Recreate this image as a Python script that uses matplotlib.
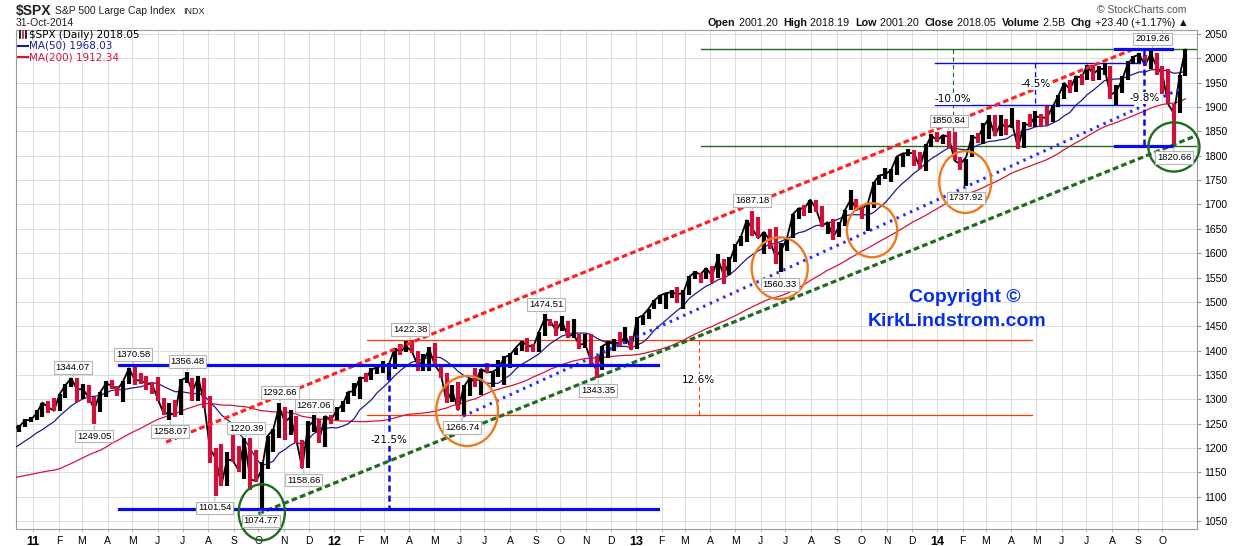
import numpy as np
import pandas as pd
import matplotlib
matplotlib.use("Agg")
import matplotlib.pyplot as plt
import matplotlib.dates as mdates
from matplotlib.patches import Ellipse
from matplotlib.lines import Line2D

plt.rcParams['font.family'] = ['Liberation Sans', 'DejaVu Sans']

# weekly closes of 2010 before the visible window (only seed the moving averages)
warmup_start = "2010-02-26"
warmup_close = [1104.5, 1138.7, 1150.0, 1159.9, 1166.6, 1178.1, 1194.4, 1192.1, 1217.3, 1186.7,
                1110.9, 1135.7, 1087.7, 1089.4, 1064.9, 1091.6, 1117.5, 1076.8, 1022.6, 1078.0,
                1064.9, 1102.7, 1101.6, 1121.6, 1079.3, 1071.7, 1064.6, 1104.5, 1109.6, 1125.6,
                1148.7, 1146.2, 1165.2, 1176.2, 1183.1, 1183.3, 1225.9, 1199.2, 1199.7, 1189.4,
                1224.7]

# weekly bars (week ending Friday) from 10-Dec-2010 to 31-Oct-2014
week_start = "2010-12-10"
high = [
    1240.4, 1246.7, 1259.4, 1262.6,
    # 2011
    1278.2, 1293.2, 1296.1, 1302.7, 1311.0, 1330.8, 1344.1, 1342.9, 1332.3, 1330.1, 1305.2, 1314.8, 1337.9,
    1339.5, 1328.2, 1337.5, 1364.6, 1370.6, 1354.4, 1346.8, 1334.6, 1345.9, 1302.2, 1292.5, 1298.6, 1341.0,
    1356.5, 1343.3, 1347.0, 1344.3, 1307.4, 1199.4, 1208.5, 1190.7, 1230.7, 1204.4, 1220.4, 1220.4, 1195.9,
    1171.4, 1224.6, 1239.0, 1292.7, 1285.1, 1277.6, 1266.0, 1215.7, 1255.0, 1267.1, 1259.7, 1265.4, 1267.4,
    # 2012
    1284.6, 1296.8, 1315.5, 1333.5, 1345.3, 1354.3, 1363.4, 1368.9, 1378.0, 1374.8, 1405.9, 1414.0, 1419.2,
    1422.4, 1398.1, 1392.8, 1406.6, 1415.3, 1369.1, 1353.9, 1328.5, 1334.9, 1329.1, 1343.3, 1363.5, 1362.2,
    1374.8, 1356.8, 1380.4, 1389.2, 1394.2, 1405.9, 1418.7, 1426.7, 1413.5, 1437.9, 1474.5, 1465.8, 1461.5,
    1471.0, 1460.9, 1464.0, 1434.0, 1434.3, 1433.4, 1388.8, 1409.2, 1420.0, 1423.7, 1438.6, 1448.0, 1430.2,
    # 2013
    1467.9, 1472.3, 1486.0, 1503.3, 1514.4, 1518.3, 1524.7, 1530.9, 1525.3, 1552.5, 1563.6, 1558.7, 1570.3,
    1573.7, 1597.4, 1588.9, 1592.6, 1618.5, 1635.0, 1667.5, 1687.2, 1674.2, 1644.4, 1648.7, 1654.2, 1620.1,
    1632.1, 1680.2, 1693.1, 1698.8, 1709.7, 1709.2, 1697.6, 1664.0, 1669.5, 1664.6, 1689.0, 1729.9, 1711.4,
    1696.6, 1703.4, 1745.3, 1759.8, 1775.2, 1773.3, 1798.2, 1804.8, 1813.6, 1811.5, 1808.4, 1823.8, 1844.9,
    # 2014
    1849.4, 1843.2, 1850.8, 1849.3, 1798.0, 1793.9, 1841.7, 1847.5, 1867.9, 1883.6, 1884.0, 1884.0, 1875.2,
    1897.3, 1872.5, 1869.6, 1884.9, 1891.3, 1885.6, 1902.2, 1901.3, 1924.0, 1949.4, 1955.6, 1963.9, 1968.2,
    1985.6, 1985.6, 1985.3, 1991.4, 1984.9, 1945.0, 1964.0, 1994.8, 2005.0, 2011.2, 2007.7, 2019.3, 2010.4,
    1985.2, 1977.8, 1906.1, 1965.3, 2018.2,
]
low = [
    1221.2, 1232.9, 1242.9, 1254.2,
    # 2011
    1257.6, 1262.7, 1271.3, 1275.1, 1276.3, 1302.6, 1324.6, 1294.3, 1300.5, 1291.9, 1249.1, 1273.7, 1305.3,
    1322.0, 1307.7, 1294.7, 1330.7, 1330.1, 1330.5, 1318.5, 1311.8, 1296.2, 1268.5, 1258.1, 1262.7, 1268.4,
    1333.2, 1295.9, 1295.9, 1282.9, 1168.1, 1101.5, 1122.1, 1121.1, 1171.0, 1150.7, 1136.1, 1114.2, 1131.1,
    1074.8, 1157.8, 1191.5, 1221.1, 1215.4, 1226.6, 1209.4, 1158.7, 1158.7, 1233.6, 1209.5, 1202.4, 1248.6,
    # 2012
    1257.6, 1274.3, 1290.2, 1306.1, 1300.5, 1335.9, 1340.0, 1352.3, 1354.9, 1340.0, 1363.0, 1391.6, 1397.1,
    1395.9, 1357.4, 1358.8, 1358.8, 1367.9, 1343.1, 1292.0, 1295.2, 1277.0, 1266.7, 1306.6, 1324.4, 1309.3,
    1353.8, 1325.4, 1345.1, 1329.2, 1365.0, 1391.0, 1400.0, 1398.0, 1397.0, 1396.6, 1429.1, 1449.6, 1430.5,
    1440.7, 1425.5, 1426.5, 1403.3, 1405.2, 1373.0, 1343.4, 1359.9, 1385.4, 1398.2, 1409.3, 1413.5, 1401.4,
    # 2013
    1402.4, 1451.6, 1463.8, 1485.0, 1495.9, 1485.0, 1506.9, 1497.3, 1485.0, 1514.0, 1547.4, 1538.6, 1546.2,
    1539.5, 1548.7, 1536.0, 1555.3, 1581.3, 1614.4, 1623.7, 1635.5, 1630.7, 1598.2, 1608.1, 1577.7, 1560.3,
    1604.6, 1631.9, 1670.3, 1676.0, 1681.9, 1684.9, 1654.2, 1639.4, 1627.5, 1633.0, 1655.2, 1688.0, 1687.1,
    1670.4, 1646.5, 1692.1, 1740.5, 1752.7, 1746.2, 1760.6, 1777.2, 1798.8, 1779.1, 1772.3, 1768.0, 1818.3,
    # 2014
    1827.7, 1823.7, 1815.5, 1790.3, 1770.5, 1737.9, 1797.0, 1826.2, 1825.1, 1834.4, 1839.6, 1839.9, 1842.3,
    1857.6, 1814.4, 1815.7, 1859.7, 1859.8, 1859.8, 1862.4, 1868.6, 1900.5, 1915.9, 1929.0, 1930.1, 1944.7,
    1955.6, 1952.9, 1955.6, 1965.1, 1916.4, 1904.8, 1928.3, 1955.1, 1988.4, 1990.1, 1985.2, 1978.5, 1966.0,
    1926.0, 1906.1, 1820.7, 1886.8, 1964.6,
]
close = [
    1240.4, 1243.9, 1256.8, 1257.6,
    # 2011
    1271.5, 1293.2, 1283.4, 1276.3, 1310.9, 1329.2, 1343.0, 1319.9, 1321.2, 1304.3, 1279.2, 1313.8, 1332.4,
    1328.2, 1319.7, 1337.4, 1363.6, 1340.2, 1337.8, 1333.3, 1331.1, 1300.2, 1271.0, 1271.5, 1268.4, 1339.7,
    1344.0, 1316.1, 1345.0, 1292.3, 1199.4, 1178.8, 1123.5, 1176.8, 1174.0, 1154.2, 1216.0, 1136.4, 1131.4,
    1155.5, 1224.6, 1238.3, 1285.1, 1253.2, 1263.9, 1215.7, 1158.7, 1244.3, 1255.2, 1219.7, 1265.3, 1257.6,
    # 2012
    1277.8, 1289.1, 1315.4, 1316.3, 1344.9, 1342.6, 1361.2, 1365.7, 1370.0, 1370.9, 1404.2, 1397.1, 1408.5,
    1398.1, 1370.3, 1378.5, 1403.4, 1369.1, 1353.4, 1295.2, 1317.8, 1278.0, 1325.7, 1342.8, 1335.0, 1362.2,
    1354.7, 1356.8, 1362.7, 1386.0, 1391.0, 1405.9, 1418.2, 1411.1, 1406.6, 1437.9, 1465.8, 1460.2, 1440.7,
    1460.9, 1428.6, 1433.2, 1411.9, 1414.2, 1379.9, 1359.9, 1409.2, 1416.2, 1418.1, 1413.6, 1430.2, 1402.4,
    # 2013
    1466.5, 1472.1, 1486.0, 1503.0, 1513.2, 1517.9, 1519.8, 1515.6, 1518.2, 1551.2, 1560.7, 1556.9, 1569.2,
    1553.3, 1588.9, 1555.3, 1582.2, 1614.4, 1633.7, 1667.5, 1649.6, 1630.7, 1643.4, 1626.7, 1592.4, 1606.3,
    1631.9, 1680.2, 1692.1, 1691.7, 1709.7, 1691.4, 1655.8, 1663.5, 1633.0, 1655.2, 1688.0, 1709.9, 1691.8,
    1690.5, 1703.2, 1744.5, 1759.8, 1761.6, 1770.6, 1798.2, 1804.8, 1805.8, 1805.1, 1775.3, 1818.3, 1841.4,
    # 2014
    1831.4, 1842.4, 1838.7, 1790.3, 1782.6, 1797.0, 1838.6, 1836.3, 1859.5, 1878.0, 1841.1, 1866.5, 1857.6,
    1865.1, 1815.7, 1864.9, 1863.4, 1881.1, 1878.5, 1877.9, 1900.5, 1923.6, 1949.4, 1936.2, 1962.9, 1961.0,
    1985.4, 1967.6, 1978.2, 1978.3, 1925.2, 1931.6, 1955.1, 1988.4, 2003.4, 2007.7, 1985.5, 2010.4, 1982.9,
    1967.9, 1906.1, 1886.8, 1964.6, 2018.05,
]

# labelled turning points
pivot_dates = ["2011-02-18", "2011-05-02", "2011-07-07", "2011-03-16", "2011-06-16", "2011-08-09",
               "2011-10-04", "2011-09-16", "2011-10-27", "2011-12-07", "2011-11-25", "2012-04-02",
               "2012-06-04", "2012-09-14", "2012-11-16", "2013-05-22", "2013-06-24", "2014-02-05",
               "2014-01-15", "2014-09-19", "2014-10-15"]
pivot_values = [1344.07, 1370.58, 1356.48, 1249.05, 1258.07, 1101.54, 1074.77, 1220.39, 1292.66,
                1267.06, 1158.66, 1422.38, 1266.74, 1474.51, 1343.35, 1687.18, 1560.33, 1737.92,
                1850.84, 2019.26, 1820.66]
pivot_side = ["hi", "hi", "hi", "lo", "lo", "lo", "lo", "hi", "hi", "hi", "lo", "hi",
              "lo", "hi", "lo", "hi", "lo", "lo", "hi", "hi", "lo"]

# trend lines: start date, start price, end date, end price
red_channel = ("2011-06-11", 1212, "2014-08-27", 2019)
green_channel = ("2011-10-01", 1065, "2014-11-12", 1842)
blue_trend = ("2012-06-05", 1265, "2014-10-25", 1939)

# circled lows
circle_dates = ["2011-10-05", "2012-06-10", "2013-06-24", "2013-10-14", "2014-02-04", "2014-10-15"]
circle_prices = [1068, 1276, 1569, 1647, 1746, 1818]
circle_kind = ["green", "orange", "orange", "orange", "orange", "green"]
circle_w_days = [56, 75, 68, 61, 63, 62]
circle_h_pts = [115, 144, 127, 111, 127, 101]

BLACK = "#000000"
DOWN = "#d0103a"
NAVY = "#1c1c8a"
CRIMSON = "#d4143c"
BLUE = "#0a0aee"
RED = "#ff2222"
DKGREEN = "#1f6b1f"
ORANGE = "#f07820"
ORANGERED = "#ff3a00"

W, H = 1240, 546
fig = plt.figure(figsize=(W / 100, H / 100), dpi=100)
ax = fig.add_axes([16 / W, 17 / H, 1181 / W, 499 / H])

d = lambda s: mdates.date2num(pd.Timestamp(s))

weeks = pd.date_range(week_start, periods=len(close), freq="W-FRI")
xb = mdates.date2num(weeks - pd.Timedelta(days=2))
close_a = np.array(close)
prev = np.r_[warmup_close[-1], close_a[:-1]]
colors = np.where(close_a >= prev, BLACK, DOWN)

# moving averages from weekly closes (10 weeks ~ 50 days, 40 weeks ~ 200 days)
all_weeks = pd.date_range(warmup_start, periods=len(warmup_close) + len(close), freq="W-FRI")
s = pd.Series(warmup_close + close, index=all_weeks)
ma50 = s.rolling(10).mean().iloc[len(warmup_close):]
ma200 = s.rolling(40).mean().iloc[len(warmup_close):]

ax.plot(xb, ma200.values, color=CRIMSON, lw=0.9, zorder=3)
ax.plot(xb, ma50.values, color=NAVY, lw=0.9, zorder=3)
ax.plot(xb, close_a, color=BLACK, lw=1.3, zorder=4)
ax.vlines(xb, low, high, colors=colors, lw=3.0, zorder=4)

# channels
def seg(t, **kw):
    ax.plot([d(t[0]), d(t[2])], [t[1], t[3]], **kw)

seg(red_channel, color=RED, lw=2.3, ls=(0, (1.8, 1.0)), zorder=5)
seg(green_channel, color=DKGREEN, lw=2.3, ls=(0, (1.8, 1.0)), zorder=5)
seg(blue_trend, color="#2a2aff", lw=2.2, ls=(0, (0.8, 1.6)), zorder=5)

# 2011 range and 21.5% drop
ax.plot([d("2011-04-15"), d("2013-01-28")], [1370.58, 1370.58], color=BLUE, lw=2.3, zorder=5)
ax.plot([d("2011-04-15"), d("2013-01-28")], [1074.77, 1074.77], color=BLUE, lw=2.3, zorder=5)
ax.plot([d("2012-03-07")] * 2, [1370.58, 1074.77], color=BLUE, lw=1.8, ls=(0, (2.5, 1.5)), zorder=5)
ax.text(d("2012-03-07"), 1216, "-21.5%", fontsize=7.5, ha="center", va="center", zorder=6,
        family=["DejaVu Sans"], bbox=dict(fc="white", ec="none", pad=0.5))

# 2012 range 12.6%
ax.plot([d("2012-02-10"), d("2014-04-26")], [1422.38, 1422.38], color=ORANGERED, lw=0.9, zorder=2)
ax.plot([d("2012-02-10"), d("2014-04-26")], [1266.74, 1266.74], color=ORANGERED, lw=0.9, zorder=2)
ax.plot([d("2013-03-18")] * 2, [1422.38, 1266.74], color=ORANGERED, lw=0.8, ls=(0, (4, 3)), zorder=2)
ax.text(d("2013-03-18"), 1339.5, "12.6%", fontsize=7.5, ha="center", va="center", zorder=6,
        family=["DejaVu Sans"], bbox=dict(fc="white", ec="none", pad=0.5))

# 2014 range -10.0%
ax.plot([d("2013-03-21"), d("2014-11-12")], [2019.26, 2019.26], color=DKGREEN, lw=1.0, zorder=2)
ax.plot([d("2013-03-21"), d("2014-11-12")], [1820.66, 1820.66], color=DKGREEN, lw=1.0, zorder=2)
ax.plot([d("2014-01-20")] * 2, [2019.26, 1820.66], color=DKGREEN, lw=0.8, ls=(0, (4, 3)), zorder=2)
ax.text(d("2014-01-20"), 1916.5, "-10.0%", fontsize=7.5, ha="center", va="center", zorder=6,
        family=["DejaVu Sans"], bbox=dict(fc="white", ec="none", pad=0.5))

# -4.5% summer dip
ax.plot([d("2013-12-29"), d("2014-09-04")], [1991.39, 1991.39], color=BLUE, lw=1.0, zorder=2)
ax.plot([d("2013-12-29"), d("2014-08-27")], [1904.78, 1904.78], color=BLUE, lw=1.0, zorder=2)
ax.plot([d("2014-04-30")] * 2, [1991.39, 1904.78], color=BLUE, lw=0.9, ls=(0, (4, 3)), zorder=2)
ax.text(d("2014-04-30"), 1947, "-4.5%", fontsize=7.5, ha="center", va="center", zorder=6,
        family=["DejaVu Sans"], bbox=dict(fc="white", ec="none", pad=0.5))

# -9.8% october drop
ax.plot([d("2014-08-05"), d("2014-10-13")], [2019.26, 2019.26], color=BLUE, lw=2.3, zorder=5)
ax.plot([d("2014-08-05"), d("2014-10-13")], [1820.66, 1820.66], color=BLUE, lw=2.3, zorder=5)
ax.plot([d("2014-09-09")] * 2, [2019.26, 1820.66], color=BLUE, lw=1.8, ls=(0, (2.5, 1.5)), zorder=5)
ax.text(d("2014-09-09"), 1918.6, "-9.8%", fontsize=7.5, ha="center", va="center", zorder=6,
        family=["DejaVu Sans"], bbox=dict(fc="white", ec="none", pad=0.5))

for cd, cp, k, cw, ch in zip(circle_dates, circle_prices, circle_kind, circle_w_days, circle_h_pts):
    ax.add_patch(Ellipse((d(cd), cp), cw, ch, fill=False, lw=1.7,
                         ec=DKGREEN if k == "green" else ORANGE, zorder=7, clip_on=False))

for pd_, pv, side in zip(pivot_dates, pivot_values, pivot_side):
    dy = 10 if side == "hi" else -12
    ax.annotate(f"{pv:.2f}", xy=(d(pd_), pv), xytext=(0, dy), textcoords="offset pixels",
                ha="center", va="center", fontsize=6.8, zorder=8,
                bbox=dict(boxstyle="square,pad=0.2", fc="white", ec="#b4b4b4", lw=0.8),
                arrowprops=dict(arrowstyle="-", color="#b4b4b4", lw=0.8, shrinkA=0, shrinkB=1))

# axes styling
ax.set_xlim(d("2010-12-11"), d("2014-11-12"))
ax.set_ylim(1033.6, 2058.2)
months = pd.date_range("2011-01-01", "2014-10-01", freq="MS")
ax.set_xticks(mdates.date2num(months))
ax.set_xticklabels([f"{m.year % 100:02d}" if m.month == 1 else m.strftime("%b")[0] for m in months])
for m, lab in zip(months, ax.get_xticklabels()):
    if m.month == 1:
        lab.set_fontweight("bold")
        lab.set_fontsize(9)
    else:
        lab.set_fontsize(7.5)
ax.set_yticks(np.arange(1050, 2051, 50))
ax.tick_params(axis="y", left=False, right=True, labelleft=False, labelright=True,
               labelsize=7.5, length=3, pad=2, color="#999999")
ax.tick_params(axis="x", length=2, pad=3, color="#bbbbbb")
ax.grid(True, color="#dcdcdc", lw=0.7, zorder=0)
ax.set_axisbelow(True)
for sp in ax.spines.values():
    sp.set_color("#9a9a9a")
    sp.set_linewidth(0.8)

# legend inside the chart
fig.text(29 / W, 1 - 35 / H, "$SPX (Daily) 2018.05", fontsize=7.5, va="center", family=["DejaVu Sans"])
fig.text(29 / W, 1 - 46 / H, "MA(50) 1968.03", fontsize=7.5, va="center", color=NAVY, family=["DejaVu Sans"])
fig.text(29 / W, 1 - 57 / H, "MA(200) 1912.34", fontsize=7.5, va="center", color=CRIMSON, family=["DejaVu Sans"])
fig.add_artist(Line2D([18 / W, 28 / W], [1 - 46 / H] * 2, color=NAVY, lw=1.5, transform=fig.transFigure))
fig.add_artist(Line2D([18 / W, 28 / W], [1 - 57 / H] * 2, color=CRIMSON, lw=1.5, transform=fig.transFigure))
for gx, gc in [(20, BLACK), (23, DOWN), (26, BLACK)]:
    fig.add_artist(Line2D([gx / W] * 2, [1 - 31 / H, 1 - 38 / H], color=gc, lw=1.2, transform=fig.transFigure))

# header
fig.text(16 / W, 1 - 11 / H, "$SPX", fontsize=10, fontweight="bold", va="center", color="#222222")
fig.text(55 / W, 1 - 11 / H, "S&P 500 Large Cap Index", fontsize=7.5, va="center", color="#222222")
fig.text(183 / W, 1 - 11 / H, "INDX", fontsize=6.5, va="center", color="#222222")
fig.text(16 / W, 1 - 23 / H, "31-Oct-2014", fontsize=7.5, va="center", color="#222222")
fig.text(1186 / W, 1 - 10 / H, "\u00a9 StockCharts.com", fontsize=7.5, va="center", ha="right", color="#555555")

r = fig.canvas.get_renderer()
parts = [("Open", "bold"), (" 2001.20  ", "normal"), ("High", "bold"), (" 2018.19  ", "normal"),
         ("Low", "bold"), (" 2001.20  ", "normal"), ("Close", "bold"), (" 2018.05  ", "normal"),
         ("Volume", "bold"), (" 2.5B  ", "normal"), ("Chg", "bold"), (" +23.40 (+1.17%) ", "normal"),
         ("\u25b2", "normal")]
x = 708
for txt, wgt in parts:
    t = fig.text(x / W, 1 - 23 / H, txt, fontsize=7.75, fontweight=wgt, va="center", color="#111111",
                 family=["Liberation Sans", "DejaVu Sans"])
    x += t.get_window_extent(renderer=r).width

fig.text(965 / W, 1 - 297 / H, "Copyright \u00a9", fontsize=14, fontweight="bold", color="#0b2ee8",
         ha="center", va="center")
fig.text(957 / W, 1 - 322 / H, "KirkLindstrom.com", fontsize=14, fontweight="bold", color="#0b2ee8",
         ha="center", va="center")

fig.savefig("out.png", dpi=100)
